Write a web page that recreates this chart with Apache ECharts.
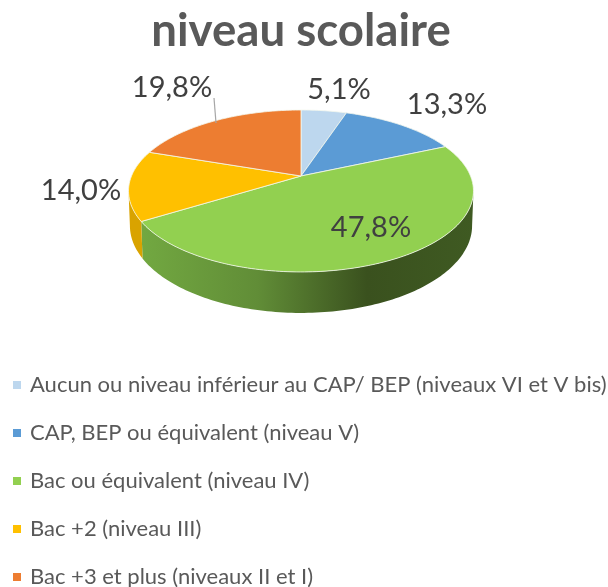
<!DOCTYPE html>
<html>
<head>
<meta charset="utf-8">
<style>html,body{margin:0;padding:0;background:#fff}#c{width:608px;height:587px}</style>
<script src="https://cdn.jsdelivr.net/npm/echarts@6/dist/echarts.min.js"></script>
</head>
<body>
<div id="c"></div>
<script>
const categories = [
  "Aucun ou niveau inférieur au CAP/ BEP (niveaux VI et V bis)",
  "CAP, BEP ou équivalent (niveau V)",
  "Bac ou équivalent (niveau IV)",
  "Bac +2 (niveau III)",
  "Bac +3 et plus (niveaux II et I)"
];
const values = [5.1, 13.3, 47.8, 14.0, 19.8];
const colors = ["#bdd7ee", "#5b9bd5", "#92d050", "#ffc000", "#ed7d31"];
const wallColors = [null, null, "green", "#d9a300", null];
const labelPos = [[339, 90], [447, 105], [371, 228], [81, 191], [172, 88]];

const total = values.reduce((a, b) => a + b, 0);
// projection of a tilted disc
const cx = 301, ay = 176, rx = 169.5, ryA = 78.2, k = 0.185, h0 = 33.4;
function rim(theta, drop) {
  const u = Math.sin(theta), v = Math.cos(theta), d = 1 + k * v;
  const s = drop ? 0.992 : 1;
  return [cx + s * rx * u / d, ay - ryA * v / d + (drop ? h0 / d : 0)];
}
function arcPts(a, b, drop) {
  const n = Math.max(2, Math.ceil(Math.abs(b - a) / 0.02)), p = [];
  for (let i = 0; i <= n; i++) p.push(rim(a + (b - a) * i / n, drop));
  return p;
}
const wallStart = Math.acos(-k), wallEnd = 2 * Math.PI - wallStart;
const greenGrad = new echarts.graphic.LinearGradient(0, 0, 1, 0, [
  {offset: 0, color: "#72a841"},
  {offset: 0.35, color: "#618d37"},
  {offset: 0.68, color: "#3a511e"},
  {offset: 1, color: "#3f5a22"}
]);

function renderSlice(params, api) {
  const i = params.seriesIndex;
  const before = values.slice(0, i).reduce((a, b) => a + b, 0);
  const a0 = before / total * 2 * Math.PI;
  const a1 = (before + values[i]) / total * 2 * Math.PI;
  const children = [];
  const w0 = Math.max(a0, wallStart), w1 = Math.min(a1, wallEnd);
  if (w1 > w0) {
    const pts = arcPts(w0, w1, false).concat(arcPts(w0, w1, true).reverse());
    children.push({
      type: "polygon", shape: {points: pts}, z2: 1,
      style: {fill: wallColors[i] === "green" ? greenGrad : wallColors[i], stroke: null}
    });
  }
  children.push({
    type: "polygon", shape: {points: [[cx, ay]].concat(arcPts(a0, a1, false))}, z2: 2,
    style: {fill: colors[i], stroke: "#f4f7ee", lineWidth: 0.8, lineJoin: "round"}
  });
  return {type: "group", children};
}

const fmt = v => v.toFixed(1).replace(".", ",") + "%";
function renderLabels() {
  const children = values.map((v, i) => ({
    type: "text", z2: 10,
    style: {
      x: labelPos[i][0], y: labelPos[i][1], text: fmt(v), align: "center", verticalAlign: "middle",
      font: "29px Lato", fill: "#404040"
    }
  }));
  children.push({
    type: "line", z2: 9, shape: {x1: 214, y1: 98, x2: 216, y2: 123},
    style: {stroke: "#a6a6a6", lineWidth: 1.2}
  });
  return {type: "group", children};
}

const series = categories.map((name, i) => ({
  name, type: "custom", coordinateSystem: "none", silent: true, animation: false,
  itemStyle: {color: colors[i]},
  data: [[values[i]]],
  renderItem: renderSlice
}));
series.push({
  name: "labels", type: "custom", coordinateSystem: "none", silent: true, animation: false, z: 5,
  data: [[0]], renderItem: renderLabels
});

const chart = echarts.init(document.getElementById("c"), null, {renderer: "canvas"});
chart.setOption({
  backgroundColor: "#fff",
  animation: false,
  title: {
    text: "niveau scolaire", left: 296, top: 3, textAlign: "center",
    textStyle: {fontFamily: "Lato", fontWeight: "bold", fontSize: 45.6, color: "#595959"}
  },
  legend: {
    type: "plain", orient: "vertical", left: 8, top: 368, width: 600, height: 230, padding: 5, selectedMode: false,
    data: categories, icon: "rect", itemWidth: 8, itemHeight: 8, itemGap: 24,
    textStyle: {fontFamily: "Lato", fontSize: 22, color: "#595959", lineHeight: 24, padding: [0, 0, 0, 4]}
  },
  series
});
</script>
</body>
</html>
